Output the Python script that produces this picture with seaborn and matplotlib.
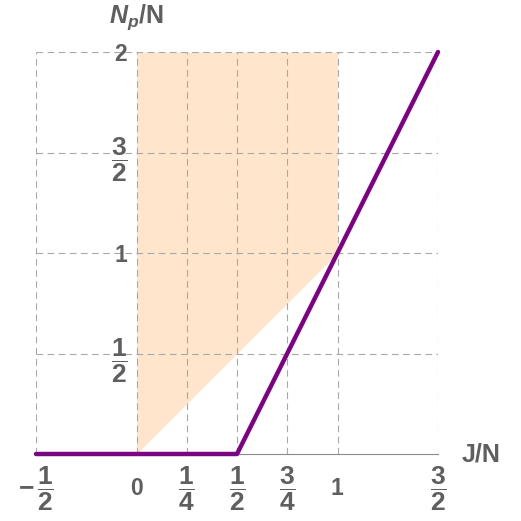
import matplotlib
matplotlib.use("Agg")
import matplotlib.pyplot as plt
import seaborn as sns
import numpy as np
import pandas as pd

# threshold curve N_p/N against J/N
curve_x = [-0.5, 0.5, 1.5]
curve_y = [0.0, 0.0, 2.0]

# shaded region: between y = x and y = 2 for 0 <= J/N <= 1
fill_x = [0.0, 1.0]
fill_lower = [0.0, 1.0]
fill_upper = [2.0, 2.0]

x_ticks = [-0.5, 0, 0.25, 0.5, 0.75, 1, 1.5]
x_tick_labels = [r"$-\,\dfrac{1}{2}$", r"$0$", r"$\dfrac{1}{4}$", r"$\dfrac{1}{2}$",
                 r"$\dfrac{3}{4}$", r"$1$", r"$\dfrac{3}{2}$"]
y_ticks = [0.5, 1, 1.5, 2]
y_tick_labels = [r"$\dfrac{1}{2}$", r"$1$", r"$\dfrac{3}{2}$", r"$2$"]

TEXT = "#5f5f5f"
PURPLE = "#7b0580"
PEACH = "#fee5cc"

sns.set_style("white")
plt.rcParams["font.family"] = ["Liberation Sans", "DejaVu Sans"]
plt.rcParams["mathtext.fontset"] = "custom"
plt.rcParams["mathtext.rm"] = "Liberation Sans:bold"
plt.rcParams["mathtext.bf"] = "Liberation Sans:bold"
plt.rcParams["mathtext.it"] = "Liberation Sans:bold:italic"
plt.rcParams["mathtext.sf"] = "Liberation Sans:bold"

W = 521
fig = plt.figure(figsize=(5.21, 5.21), dpi=100)
ax = fig.add_axes([36 / W, (W - 454) / W, (438 - 36) / W, (454 - 52) / W])

ax.fill_between(fill_x, fill_lower, fill_upper, color=PEACH, linewidth=0, zorder=1)

df = pd.DataFrame({"x": curve_x, "y": curve_y})
sns.lineplot(data=df, x="x", y="y", color=PURPLE, linewidth=3.2, ax=ax,
             clip_on=False, zorder=3)

ax.set_xlim(-0.5, 1.5)
ax.set_ylim(0, 2)
ax.set_xlabel("")
ax.set_ylabel("")

# axes cross at the origin
for side in ["top", "right"]:
    ax.spines[side].set_visible(False)
ax.spines["left"].set_position(("data", 0))
ax.spines["left"].set_color("none")
ax.spines["bottom"].set_color("#8a8a8a")
ax.spines["bottom"].set_linewidth(0.8)

ax.set_xticks(x_ticks)
ax.set_xticklabels(x_tick_labels)
ax.set_yticks(y_ticks)
ax.set_yticklabels(y_tick_labels)
ax.tick_params(axis="x", direction="in", length=5, width=0.7, color="#8a8a8a",
               pad=25, labelsize=16.5, labelcolor=TEXT)
ax.tick_params(axis="y", length=0, pad=6, labelsize=16.5, labelcolor=TEXT)
plt.setp(ax.get_xticklabels(), va="center")
for lab in ax.get_xticklabels() + ax.get_yticklabels():
    if "dfrac" in lab.get_text():
        lab.set_fontsize(19)

ax.set_axisbelow("line")
ax.grid(True, color="#a8a8a8", linestyle=(0, (6, 4)), linewidth=0.8)

ax.annotate("J/N", xy=(1, 0), xycoords="axes fraction", xytext=(17, 0),
            textcoords="offset points", ha="left", va="center",
            fontsize=18, fontweight="bold", color=TEXT, annotation_clip=False)
ax.annotate(r"$N_p$/N", xy=(0, 2), xycoords="data", xytext=(0, 21),
            textcoords="offset points", ha="center", va="baseline",
            fontsize=18, fontweight="bold", color=TEXT, annotation_clip=False)

fig.savefig("out.png", dpi=100)
